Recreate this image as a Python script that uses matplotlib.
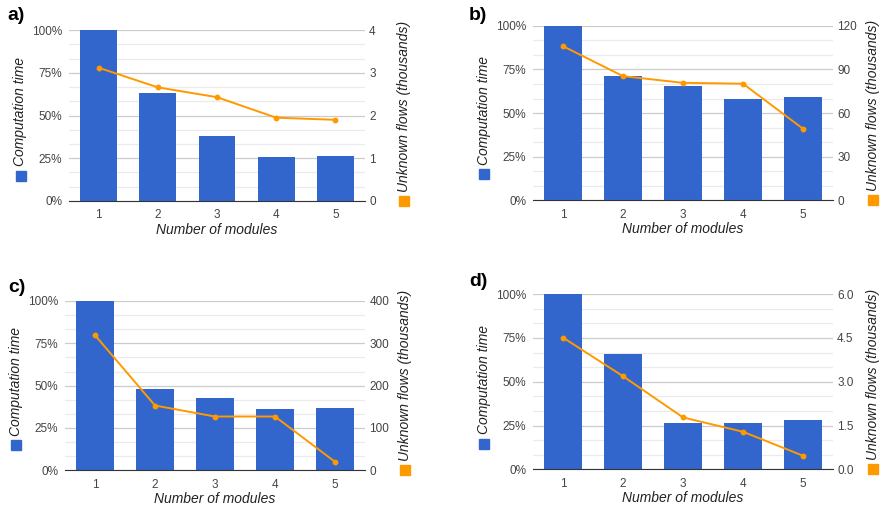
import matplotlib.pyplot as plt
from matplotlib.ticker import FuncFormatter

modules = [1, 2, 3, 4, 5]

# computation time, percent of single-module time
time_a = [100, 63, 38, 26, 26.5]
time_b = [100, 71.2, 65.5, 58, 59.2]
time_c = [100, 48, 42.7, 36.2, 36.8]
time_d = [100, 65.7, 26.4, 26.4, 28.1]

# unknown flows, thousands
flows_a = [3.12, 2.66, 2.43, 1.95, 1.90]
flows_b = [106, 85.4, 80.8, 80.2, 49.2]
flows_c = [319, 153, 127, 127, 20]
flows_d = [4.51, 3.19, 1.78, 1.29, 0.47]

flow_ticks_a = [0, 1, 2, 3, 4]
flow_ticks_b = [0, 30, 60, 90, 120]
flow_ticks_c = [0, 100, 200, 300, 400]
flow_ticks_d = [0.0, 1.5, 3.0, 4.5, 6.0]

BLUE = '#3366cc'
ORANGE = '#ff9900'
TXT = '#444444'

plt.rcParams['font.family'] = ['Liberation Sans', 'DejaVu Sans']

fig = plt.figure(figsize=(8.86, 5.07), dpi=100)


def panel(rect, times, flows, fticks, ffmt, letter, letter_xy):
    ax = fig.add_axes(rect)
    ax2 = ax.twinx()
    ax.set_zorder(1)
    ax2.set_zorder(2)
    ax.patch.set_visible(False)

    ax.bar(modules, times, width=0.62, color=BLUE, zorder=3)
    ax.set_xlim(0.5, 5.5)
    ax.set_ylim(0, 100)
    ax.set_yticks([0, 25, 50, 75, 100])
    ax.set_yticks([v * 25 / 3 for v in range(13)], minor=True)
    ax.yaxis.set_major_formatter(FuncFormatter(lambda v, p: '%d%%' % v))
    ax.grid(axis='y', which='major', color='#cccccc', lw=0.9, zorder=0)
    ax.grid(axis='y', which='minor', color='#ebebeb', lw=0.9, zorder=0)
    ax.set_xticks(modules)
    ax.tick_params(which='both', length=0, labelsize=8.5, labelcolor=TXT)
    ax.tick_params(axis='y', pad=5)
    ax.tick_params(axis='x', pad=6)
    for s in ['top', 'right', 'left']:
        ax.spines[s].set_visible(False)
    ax.spines['bottom'].set_color('#333333')
    ax.spines['bottom'].set_zorder(5)
    ax.set_xlabel('Number of modules', fontsize=10, style='italic',
                  color='#222222', labelpad=1)

    ax2.plot(modules, flows, color=ORANGE, lw=1.4, marker='o', ms=3.2)
    ax2.set_ylim(fticks[0], fticks[-1])
    ax2.set_yticks(fticks)
    ax2.set_yticklabels([ffmt % v for v in fticks])
    ax2.tick_params(length=0, labelsize=8.5, labelcolor=TXT, pad=3)
    for s in ax2.spines.values():
        s.set_visible(False)

    ax.text(-0.165, 0.205, 'Computation time', rotation=90, ha='center',
            va='bottom', style='italic', fontsize=10, color='#222222',
            transform=ax.transAxes)
    ax.plot([-0.162], [0.148], marker='s', ms=7, color=BLUE,
            transform=ax.transAxes, clip_on=False)
    ax.text(1.132, 0.053, 'Unknown flows (thousands)', rotation=90,
            ha='center', va='bottom', style='italic', fontsize=10,
            color='#222222', transform=ax.transAxes)
    ax.plot([1.132], [0.0], marker='s', ms=7, color=ORANGE,
            transform=ax.transAxes, clip_on=False)

    fig.text(letter_xy[0] / 886, 1 - letter_xy[1] / 507, letter,
             fontsize=14, fontweight='bold', ha='left', va='center')


panel([0.0779, 0.6036, 0.334, 0.337], time_a, flows_a, flow_ticks_a, '%d', 'a)', (7, 16))
panel([0.6016, 0.605, 0.3386, 0.344], time_b, flows_b, flow_ticks_b, '%d', 'b)', (469, 15))
panel([0.0734, 0.0724, 0.3386, 0.334], time_c, flows_c, flow_ticks_c, '%d', 'c)', (8, 288))
panel([0.6016, 0.0740, 0.3386, 0.346], time_d, flows_d, flow_ticks_d, '%.1f', 'd)', (469, 282))

fig.savefig('out.png', dpi=100)
